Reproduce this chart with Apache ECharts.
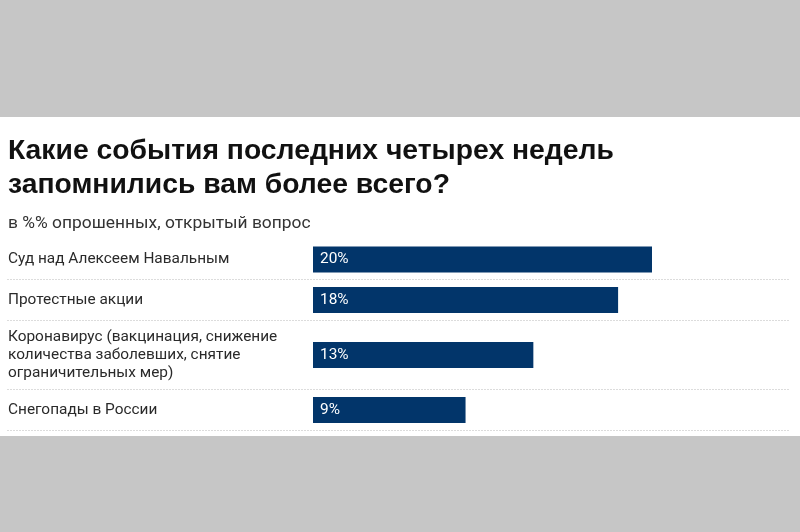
<!DOCTYPE html>
<html><head><meta charset="utf-8">
<script src="https://cdn.jsdelivr.net/npm/echarts@6/dist/echarts.min.js"></script>
<style>html,body{margin:0;padding:0;background:#c6c6c6}#c{width:800px;height:532px}</style>
</head><body><div id="c"></div>
<script>
const categories = [
  'Суд над Алексеем Навальным',
  'Протестные акции',
  'Коронавирус (вакцинация, снижение\nколичества заболевших, снятие\nограничительных мер)',
  'Снегопады в России'
];
const values = [20, 18, 13, 9];
const valueLabels = ['20%', '18%', '13%', '9%'];

const rowTops = [239.5, 279.5, 320.5, 389.5];
const rowHeights = [40, 41, 69, 41];
const gridLeft = 313, gridWidth = 339, xMax = 20;
const font = 'Roboto, "Liberation Sans", Arial, sans-serif';

const grids = [], xAxes = [], yAxes = [], series = [], graphics = [];
graphics.push({type:'rect', shape:{x:0,y:117,width:800,height:319}, style:{fill:'#ffffff'}, z:-10});
categories.forEach((cat, i) => {
  grids.push({left: gridLeft, width: gridWidth, top: rowTops[i], height: rowHeights[i]});
  xAxes.push({type:'value', gridIndex:i, min:0, max:xMax, show:false});
  yAxes.push({type:'category', gridIndex:i, data:[cat], axisLine:{show:false}, axisTick:{show:false},
    axisLabel:{align:'left', margin: gridLeft - 8, color:'#2a2a2a', fontSize:15.4, fontFamily:font, lineHeight:18.3}});
  series.push({type:'bar', xAxisIndex:i, yAxisIndex:i, data:[values[i]], barWidth:26,
    itemStyle:{color:'#02356a'}, silent:true,
    label:{show:true, position:'insideLeft', offset:[2,0], formatter:()=>valueLabels[i], color:'#fff', fontSize:15.4, fontFamily:font}});
  const yb = Math.round(rowTops[i] + rowHeights[i]) - 0.5;
  graphics.push({type:'line', shape:{x1:7,y1:yb,x2:789,y2:yb}, style:{stroke:'#dcdcdc', lineWidth:1, lineDash:[2,1]}});
});

const chart = echarts.init(document.getElementById('c'), null, {renderer:'canvas'});
chart.setOption({
  backgroundColor:'#c6c6c6',
  animation:false,
  title:[
    {text:'Какие события последних четырех недель\nзапомнились вам более всего?', left:8, top:134, padding:0,
      textStyle:{fontSize:28.3, fontWeight:'bold', color:'#111', fontFamily:'"Liberation Sans", Arial, sans-serif', lineHeight:34}},
    {text:'в %% опрошенных, открытый вопрос', left:8, top:215, padding:0,
      textStyle:{fontSize:17.4, fontWeight:'normal', color:'#333', fontFamily:font}}
  ],
  graphic: graphics,
  grid: grids, xAxis: xAxes, yAxis: yAxes, series: series
});
</script></body></html>
